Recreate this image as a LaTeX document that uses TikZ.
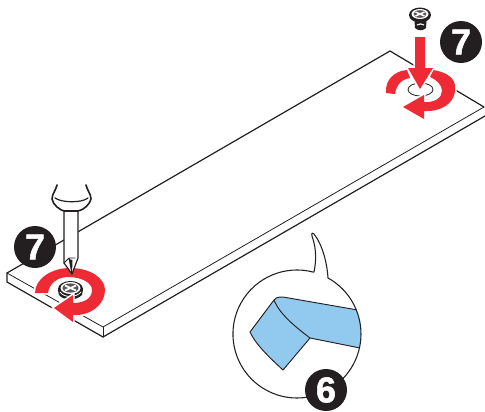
\documentclass[tikz,border=0pt]{standalone}
\usepackage{fontspec}
\setmainfont{Liberation Sans}
\newfontfamily\badgefont[RawFeature={embolden=1.5}]{Liberation Sans}
\definecolor{ink}{HTML}{231F20}
\definecolor{redarrow}{HTML}{EE2A35}
\definecolor{tapeblue}{HTML}{92C9EE}
\tikzset{
  badge/.style={circle,fill=ink,text=white,minimum size=42*0.75pt,inner sep=0pt,font=\fontsize{27}{27}\badgefont\bfseries\selectfont},
  edge/.style={draw=ink,line width=0.9pt,line join=round,line cap=round},
  thin edge/.style={draw=ink,line width=0.6pt,line join=round,line cap=round},
  redfill/.style={fill=redarrow,draw=none},
  halo/.style={preaction={draw=white,line width=2.4pt}},
  tape/.style={fill=tapeblue,draw=ink,line width=0.7pt,line join=round}
}
\begin{document}
\begin{tikzpicture}[x=0.75pt,y=-0.75pt]
\useasboundingbox (0,0) rectangle (485,411);
% board
\coordinate (tl) at (7,273); \coordinate (tb) at (103,327); \coordinate (tr) at (484,107); \coordinate (tt) at (390,51);
\coordinate (ll) at (7,282); \coordinate (lb) at (103,337); \coordinate (lr) at (485,116);
\draw[edge] (tl) -- (tt) -- (tr);
\draw[thin edge] (tl) -- (tb) -- (tr);
\draw[edge] (tl) -- (ll) -- (lb) -- (lr);
\draw[thin edge] (tb) -- (lb);
% screw hole at right
\fill[white] (421,90) ellipse [x radius=34,y radius=22];
\draw[thin edge] (420.5,89.5) ellipse [x radius=12.5,y radius=6.5];
% left screw
\fill[ink] (70.5,289) ellipse [x radius=12.5,y radius=8];
\fill[ink] (58,290) -- (59,295) .. controls (64,301) and (76,301) .. (82,295) -- (83,289) -- cycle;
\draw[white,line width=0.6pt] (60,292) .. controls (64,298) and (76,298) .. (81,292);
\fill[white] (70.5,288) ellipse [x radius=10,y radius=6];
\fill[ink!75] (70.5,288) ellipse [x radius=8,y radius=4.6];
\draw[white,line width=1.3pt] (65,285.5) -- (76,290.5) (65,290.5) -- (76,285.5);
% top screw
\fill[ink] (420,15) ellipse [x radius=11,y radius=7.5];
\fill[white] (420,14) ellipse [x radius=8.5,y radius=5];
\fill[ink!75] (420,14) ellipse [x radius=6.5,y radius=3.8];
\draw[white,line width=1.1pt] (415.5,12) -- (424.5,16) (415.5,16) -- (424.5,12);
\fill[ink] (414.5,21) -- (426.5,21) -- (426,28) .. controls (423,31) and (418,31) .. (415,28) -- cycle;
\draw[white,line width=0.8pt] (417,25) .. controls (419,23.5) and (422,23.5) .. (424,25);
% left red ring
\path[redfill,halo]
  (35,293) .. controls (35,279) and (51,268) .. (70,268)
  .. controls (90,268) and (105,278) .. (105,290)
  .. controls (105,305) and (90,316) .. (73,315) -- (73,322) -- (54,308) -- (73,295) -- (73,303)
  .. controls (85,303) and (92,298) .. (92,290)
  .. controls (92,283) and (82,277) .. (68,277)
  .. controls (57,277) and (49,284) .. (48,293) -- cycle;
% screwdriver
\path[fill=white] (57,185) .. controls (56,190) and (52,194) .. (52,199) .. controls (53,205) and (60,210) .. (64,211)
  -- (64,263) -- (72,274) -- (78,258) -- (78,211) .. controls (84,210) and (90,204) .. (91,199) .. controls (91,194) and (87,190) .. (86,185) -- cycle;
\draw[edge,line width=1.2pt] (57,185) .. controls (56,190) and (52,194) .. (52,199) .. controls (53,205) and (60,210) .. (64,211) -- (78,211) .. controls (84,210) and (90,204) .. (91,199) .. controls (91,194) and (87,190) .. (86,185);
\draw[edge] (55,198) .. controls (62,203) and (82,203) .. (88,198);
\draw[edge] (64,211) -- (64,263) -- (72,274) -- (78,258) -- (78,211);
\draw[thin edge] (69,258) -- (72,274) (69,258) -- (64,263) (69,258) -- (75,258);
\fill[ink] (69,259) -- (72,274) -- (72.5,260) -- cycle;
% right ring
\path[redfill,halo] (386,93) .. controls (385,79) and (395,71) .. (407,70) -- (410,78) .. controls (402,79) and (396,85) .. (395,94) -- cycle;
\path[redfill,halo] (433,70) .. controls (447,72) and (456,79) .. (455,88) .. controls (456,103) and (441,112) .. (424,111) -- (424,119) -- (403,107) -- (424,95) -- (424,102)
 .. controls (434,103) and (442,98) .. (442,91) .. controls (442,85) and (437,80) .. (430,77) -- cycle;
% down arrow
\path[redfill,halo] (415,37) -- (425,37) -- (425,68) -- (433,68) -- (420,89) -- (408,68) -- (415,68) -- cycle;
% badges
\node[badge] (sevenL) at (35,247) {7};
\node[badge] (sevenR) at (461,42) {7};
% bubble
\path[fill=white] (297,334) circle [radius=64];
\begin{scope}
\clip (297,334) circle [radius=64];
\path[tape] (274,300) .. controls (275,298) and (277,297) .. (283,297) -- (375,313) -- (375,351) -- (310,338) -- (283,370) .. controls (270,358) and (256,345) .. (250,332) -- cycle;
\draw[draw=ink,line width=0.7pt] (274,300) .. controls (280,315) and (297,328) .. (310,338);
\end{scope}
\draw[edge,line width=0.8pt] (314,272) .. controls (316,262) and (317,250) .. (312,236) .. controls (311,232) and (313,233) .. (314,234) .. controls (322,244) and (327,262) .. (328,278)
  arc [start angle=-61,end angle=285,radius=64];
\node[badge] (six) at (326,390) {6};
\end{tikzpicture}
\end{document}
